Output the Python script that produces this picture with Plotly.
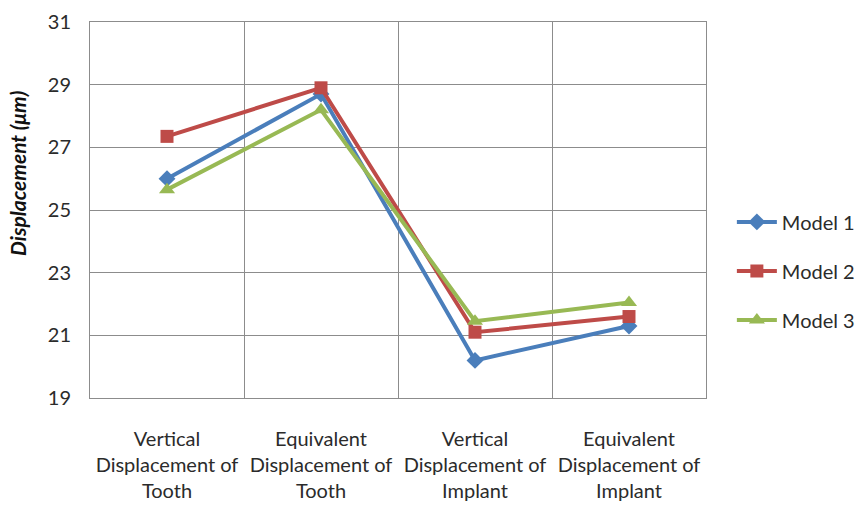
import plotly.graph_objects as go

categories = [
    "Vertical<br>Displacement of<br>Tooth",
    "Equivalent<br>Displacement of<br>Tooth",
    "Vertical<br>Displacement of<br>Implant",
    "Equivalent<br>Displacement of<br>Implant",
]
model1 = [26.0, 28.7, 20.2, 21.3]
model2 = [27.35, 28.9, 21.1, 21.6]
model3 = [25.65, 28.2, 21.45, 22.05]

series = [
    ("Model 1", model1, "#4A7EBB", "diamond", 13),
    ("Model 2", model2, "#BE4B48", "square", 13),
    ("Model 3", model3, "#98B954", "triangle-up", 14),
]

FONT = "Lato, Open Sans, sans-serif"
TEXT = "#2b2b2b"
xpos = list(range(len(categories)))

fig = go.Figure()
for name, vals, color, symbol, size in series:
    fig.add_trace(go.Scatter(
        x=xpos, y=vals, name=name, mode="lines+markers",
        line=dict(color=color, width=4),
        marker=dict(color=color, symbol=symbol, size=size),
        legendgroup=name,
    ))

# rotated axis title placed as an annotation
fig.add_annotation(
    text="<b><i>Displacement (μm)</i></b>",
    xref="paper", yref="paper", x=0, y=0.596,
    xanchor="center", yanchor="middle", xshift=-72,
    textangle=-90, showarrow=False,
    font=dict(family=FONT, size=21, color="#111111"),
)

fig.update_layout(
    width=858, height=516,
    margin=dict(l=90, r=152, t=22, b=118, autoexpand=False),
    paper_bgcolor="white", plot_bgcolor="white",
    font=dict(family=FONT, size=20, color=TEXT),
    showlegend=True,
    legend=dict(
        xref="container", yref="container",
        x=0.853, y=0.475, xanchor="left", yanchor="middle",
        font=dict(size=20, color=TEXT),
        traceorder="grouped", tracegroupgap=20,
        itemwidth=40,
    ),
    xaxis=dict(
        range=[-0.5, 3.5], tickmode="array", tickvals=xpos, ticktext=categories,
        showgrid=False, zeroline=False, ticks="",
        showline=True, linecolor="#8c8c8c", linewidth=1, mirror=True,
        tickfont=dict(size=20), ticklabelstandoff=23,
        minor=dict(tickmode="linear", tick0=0.5, dtick=1, showgrid=True,
                   gridcolor="#8c8c8c", gridwidth=1),
    ),
    yaxis=dict(
        range=[19, 31], dtick=2, tick0=19,
        showgrid=True, gridcolor="#8c8c8c", gridwidth=1,
        zeroline=False, ticks="",
        showline=True, linecolor="#8c8c8c", linewidth=1, mirror=True,
        tickfont=dict(size=20), ticklabelstandoff=14,
    ),
)

fig.write_html("out.html")
